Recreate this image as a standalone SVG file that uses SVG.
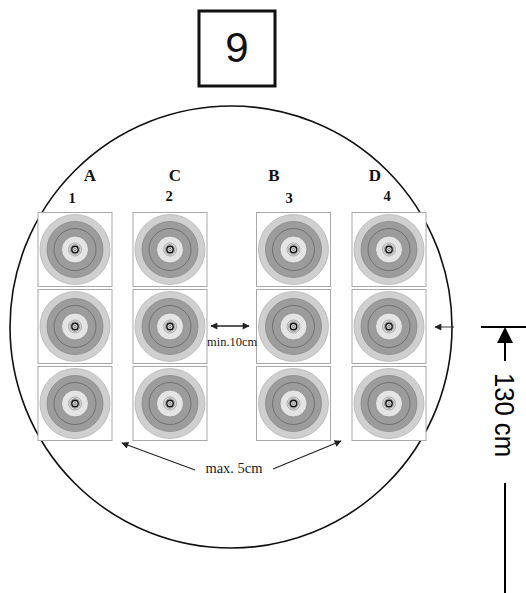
<svg xmlns="http://www.w3.org/2000/svg" xmlns:xlink="http://www.w3.org/1999/xlink" width="526" height="593" viewBox="0 0 526 593">
<style>
.box{fill:#fff;stroke:#a8a8a8;stroke-width:1}
.lbl{font-family:"Liberation Serif",serif;font-weight:bold;text-anchor:middle;fill:#111}
.note{font-family:"Liberation Serif",serif;fill:#222}
.ln{stroke:#222;fill:none}
</style>
<defs>
<marker id="ah" viewBox="0 0 10 10" refX="9" refY="5" markerWidth="9" markerHeight="7" markerUnits="userSpaceOnUse" orient="auto-start-reverse"><path d="M0,0 L10,5 L0,10 z" fill="#222"/></marker>
<g id="tgt">
<rect class="box" x="-37" y="-37" width="74" height="74"/>
<circle r="35" fill="#cfcfcf" stroke="#b5b5b5" stroke-width="0.8"/>
<circle r="28" fill="#9c9c9c" stroke="#888" stroke-width="0.8"/>
<circle r="21" fill="none" stroke="#6a6a6a" stroke-width="0.9"/>
<circle r="13.5" fill="#e4e4e4" stroke="#888" stroke-width="0.8"/>
<circle r="6.5" fill="none" stroke="#999" stroke-width="0.8"/>
<circle r="4.8" fill="none" stroke="#777" stroke-width="0.7"/>
<circle r="3.2" fill="#ddd" stroke="#111" stroke-width="1.4"/>
<circle r="1.2" fill="none" stroke="#444" stroke-width="0.5"/>
</g>
</defs>
<rect width="526" height="593" fill="#fff"/>
<g id="title"><rect x="199" y="11" width="76" height="75" fill="#fff" stroke="#111" stroke-width="3"/>
<text x="237" y="62" font-family="Liberation Sans,Arial,sans-serif" font-size="42" text-anchor="middle" fill="#111">9</text></g>
<g id="field"><circle cx="231" cy="327" r="221" fill="none" stroke="#111" stroke-width="1.6"/></g>
<g id="labels">
<text class="lbl" x="90" y="181" font-size="17">A</text>
<text class="lbl" x="175" y="181" font-size="17">C</text>
<text class="lbl" x="274" y="181" font-size="17">B</text>
<text class="lbl" x="375" y="181" font-size="17">D</text>
<text class="lbl" x="72" y="203" font-size="14.5">1</text>
<text class="lbl" x="169" y="201" font-size="14.5">2</text>
<text class="lbl" x="289" y="203" font-size="14.5">3</text>
<text class="lbl" x="387" y="201" font-size="14.5">4</text>
</g>
<g id="t-A1"><use xlink:href="#tgt" x="75" y="249.5"/></g>
<g id="t-A2"><use xlink:href="#tgt" x="75" y="326.5"/></g>
<g id="t-A3"><use xlink:href="#tgt" x="75" y="403.5"/></g>
<g id="t-C1"><use xlink:href="#tgt" x="170" y="249.5"/></g>
<g id="t-C2"><use xlink:href="#tgt" x="170" y="326.5"/></g>
<g id="t-C3"><use xlink:href="#tgt" x="170" y="403.5"/></g>
<g id="t-B1"><use xlink:href="#tgt" x="293.5" y="249.5"/></g>
<g id="t-B2"><use xlink:href="#tgt" x="293.5" y="326.5"/></g>
<g id="t-B3"><use xlink:href="#tgt" x="293.5" y="403.5"/></g>
<g id="t-D1"><use xlink:href="#tgt" x="389" y="249.5"/></g>
<g id="t-D2"><use xlink:href="#tgt" x="389" y="326.5"/></g>
<g id="t-D3"><use xlink:href="#tgt" x="389" y="403.5"/></g>
<g id="connectors">
<line class="ln" x1="211" y1="326" x2="249" y2="326" stroke-width="1.3" marker-start="url(#ah)" marker-end="url(#ah)"/>
<line class="ln" x1="195" y1="470" x2="122" y2="443" stroke-width="1.1" marker-end="url(#ah)"/>
<line class="ln" x1="273" y1="469" x2="341" y2="441" stroke-width="1.1" marker-end="url(#ah)"/>
<line class="ln" x1="454" y1="327" x2="435" y2="327" stroke-width="0.9" marker-end="url(#ah)"/>
</g>
<g id="notes">
<text class="note" x="207" y="346" font-size="12.5">min.10cm</text>
<text class="note" x="234" y="473" font-size="14.5" text-anchor="middle">max. 5cm</text>
</g>
<g id="dimension">
<line x1="481" y1="327" x2="526" y2="327" stroke="#000" stroke-width="2"/>
<polygon points="505,327 497,343 513,343" fill="#000"/>
<line x1="505" y1="342" x2="505" y2="361" stroke="#000" stroke-width="2"/>
<text transform="translate(495,415) rotate(90)" font-family="Liberation Sans,Arial,sans-serif" font-size="28" text-anchor="middle" textLength="84" lengthAdjust="spacingAndGlyphs" fill="#000">130 cm</text>
<line x1="505" y1="483" x2="505" y2="593" stroke="#000" stroke-width="2"/>
</g>
</svg>
